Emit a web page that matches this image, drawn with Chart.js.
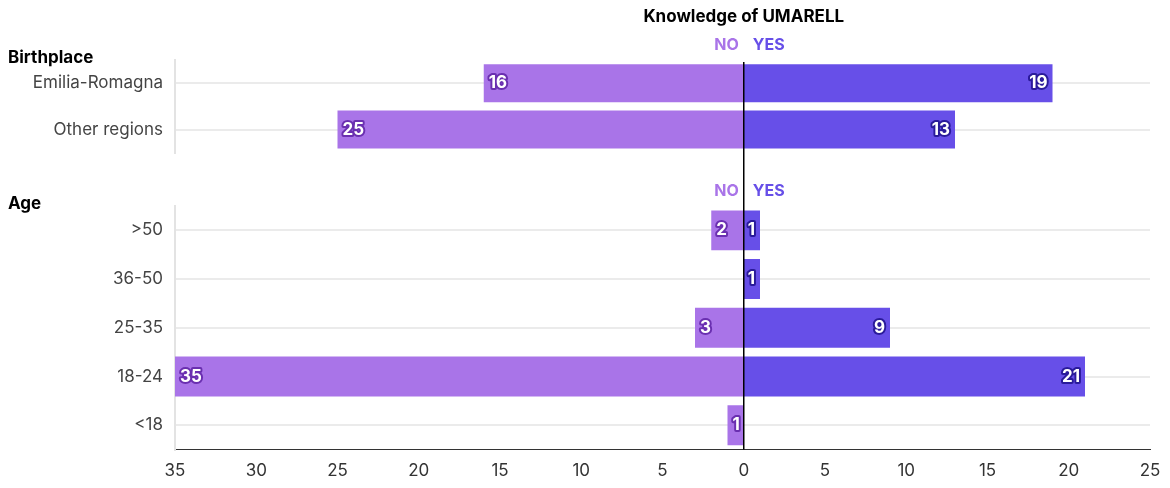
<!DOCTYPE html>
<html>
<head>
<meta charset="utf-8">
<script src="https://cdn.jsdelivr.net/npm/chart.js@4"></script>
<style>
  body { margin: 0; background: #fff; font-family: Inter, sans-serif; }
  .wrap { position: relative; width: 1170px; }
  #top { width: 1170px; height: 175px; }
  #bottom { width: 1170px; height: 313px; }
  canvas { display: block; }
</style>
</head>
<body>
<div class="wrap"><canvas id="top"></canvas></div>
<div class="wrap"><canvas id="bottom"></canvas></div>
<script>
const birthCategories = ['Emilia-Romagna', 'Other regions'];
const birthNo = [16, 25];
const birthYes = [19, 13];

const ageCategories = ['>50', '36-50', '25-35', '18-24', '<18'];
const ageNo = [2, 0, 3, 35, 1];
const ageYes = [1, 1, 9, 21, 0];

const xTicks = [-35, -30, -25, -20, -15, -10, -5, 0, 5, 10, 15, 20, 25];

const NO_COLOR = '#a974e8';
const YES_COLOR = '#674fe8';
const FONT = 'Inter, sans-serif';

// white labels with a dark outline inside the bar ends
const barLabels = {
    id: 'barLabels',
    afterDatasetsDraw(chart) {
        const ctx = chart.ctx;
        ctx.save();
        ctx.font = 'bold 17px ' + FONT;
        ctx.textBaseline = 'middle';
        ctx.lineJoin = 'round';
        chart.data.datasets.forEach((ds, di) => {
            chart.getDatasetMeta(di).data.forEach((bar, i) => {
                const v = Math.abs(ds.data[i]);
                if (!v) return;
                const text = String(v);
                const neg = ds.data[i] < 0;
                ctx.textAlign = neg ? 'left' : 'right';
                const x = neg ? bar.x + 5 : bar.x - 5;
                ctx.strokeStyle = neg ? '#6a2fb0' : '#2a1a9a';
                ctx.lineWidth = 4;
                ctx.strokeText(text, x, bar.y);
                ctx.fillStyle = '#fff';
                ctx.fillText(text, x, bar.y);
            });
        });
        ctx.restore();
    }
};

// zero line, section heading, NO / YES markers
function decor(heading, title) {
    return {
        id: 'decor',
        afterDraw(chart) {
            const ctx = chart.ctx;
            const x0 = chart.scales.x.getPixelForValue(0);
            const area = chart.chartArea;
            ctx.save();
            ctx.strokeStyle = '#000';
            ctx.lineWidth = 1.5;
            ctx.beginPath();
            ctx.moveTo(x0, title ? 62 : 0);
            ctx.lineTo(x0, title ? chart.height : area.bottom);
            ctx.stroke();

            ctx.textBaseline = 'middle';
            if (title) {
                ctx.font = 'bold 17px ' + FONT;
                ctx.fillStyle = '#000';
                ctx.textAlign = 'center';
                ctx.fillText(title, x0, 17);
            }
            ctx.font = 'bold 17px ' + FONT;
            ctx.fillStyle = '#000';
            ctx.textAlign = 'left';
            ctx.fillText(heading, 8, area.top - 2);

            ctx.font = 'bold 16px ' + FONT;
            ctx.fillStyle = NO_COLOR;
            ctx.textAlign = 'right';
            ctx.fillText('NO', x0 - 5, area.top - 15);
            ctx.fillStyle = YES_COLOR;
            ctx.textAlign = 'left';
            ctx.fillText('YES', x0 + 9, area.top - 15);
            ctx.restore();
        }
    };
}

function makeChart(id, categories, noData, yesData, showX, padding, heading, title) {
    return new Chart(document.getElementById(id), {
        type: 'bar',
        data: {
            labels: categories,
            datasets: [
                { label: 'NO', data: noData.map(v => -v), backgroundColor: NO_COLOR },
                { label: 'YES', data: yesData, backgroundColor: YES_COLOR }
            ]
        },
        options: {
            indexAxis: 'y',
            responsive: false,
            animation: false,
            layout: { padding: padding },
            plugins: { legend: { display: false }, tooltip: { enabled: false } },
            scales: {
                x: {
                    display: showX,
                    stacked: true,
                    min: -35,
                    max: 25,
                    afterBuildTicks: scale => { scale.ticks = xTicks.map(v => ({ value: v })); },
                    ticks: {
                        callback: v => Math.abs(v),
                        font: { family: FONT, size: 17 },
                        color: '#333'
                    },
                    grid: { display: false },
                    border: { color: '#333', width: 1 }
                },
                y: {
                    stacked: true,
                    categoryPercentage: 0.82,
                    barPercentage: 1,
                    afterFit: scale => { scale.width = 175; },
                    ticks: {
                        font: { family: FONT, size: 17 },
                        color: '#444',
                        padding: 12
                    },
                    grid: { offset: false, color: '#ebebeb', lineWidth: 2, drawTicks: false },
                    border: { color: '#e3e3e3', width: 2 }
                }
            },
            datasets: { bar: { categoryPercentage: 0.82, barPercentage: 1 } }
        },
        plugins: [barLabels, decor(heading, title)]
    });
}

function setup(id, w, h) {
    const c = document.getElementById(id);
    c.width = w; c.height = h;
}
setup('top', 1170, 175);
setup('bottom', 1170, 313);

makeChart('top', birthCategories, birthNo, birthYes, false,
    { top: 60, bottom: 17, left: 0, right: 20 }, 'Birthplace', 'Knowledge of UMARELL');
makeChart('bottom', ageCategories, ageNo, ageYes, true,
    { top: 31, bottom: 4, left: 0, right: 20 }, 'Age', null);
</script>
</body>
</html>
